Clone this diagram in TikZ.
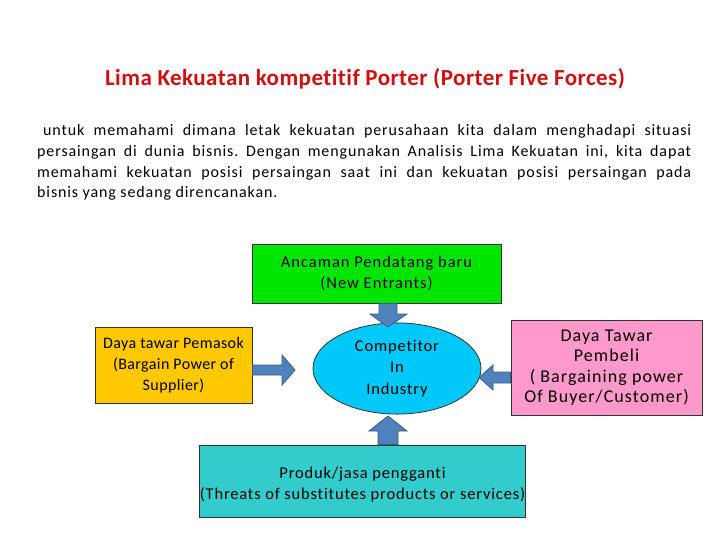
\documentclass[tikz,border=0pt]{standalone}
\usepackage{fontspec}
\setmainfont{Carlito}[Ligatures=NoCommon]
\usetikzlibrary{shapes.geometric,calc}
\definecolor{titlered}{HTML}{D01010}
\definecolor{boxgreen}{HTML}{00E600}
\definecolor{boxorange}{HTML}{FFC800}
\definecolor{ellblue}{HTML}{00C8F8}
\definecolor{boxpink}{HTML}{FF99CC}
\definecolor{boxteal}{HTML}{33CCCC}
\definecolor{arrowfill}{HTML}{4F81BD}
\definecolor{arrowline}{HTML}{385D8A}
\newcommand{\lsp}[1]{\addfontfeatures{LetterSpace=#1}}
\newcommand{\lowered}[2]{\raisebox{-#1}{\begin{tabular}{@{}c@{}}#2\end{tabular}}}
\frenchspacing
\begin{document}
\begin{tikzpicture}[x=1pt,y=-1pt,
  box/.style={draw=black!80, line width=0.8pt, inner sep=0pt, align=center},
  barrow/.style={fill=arrowfill, draw=arrowline, line width=0.8pt, line join=miter}]
\useasboundingbox (0,0) rectangle (720,540);
% title
\node[font=\fontsize{23}{26}\selectfont\bfseries\lsp{2}, text=titlered] (title) at (365,79) {Lima Kekuatan kompetitif Porter (Porter Five Forces)};
% paragraph
\node[anchor=north west, text width=654pt, align=justify, inner sep=0pt, font=\fontsize{16}{20.7}\selectfont\lsp{5.5}] (para) at (37,124.5)
{\hspace*{6pt}untuk memahami dimana letak kekuatan perusahaan kita dalam menghadapi situasi\linebreak
persaingan di dunia bisnis. Dengan mengunakan Analisis Lima Kekuatan ini, kita dapat\linebreak
memahami kekuatan posisi persaingan saat ini dan kekuatan posisi persaingan pada\linebreak
bisnis yang sedang direncanakan.};
% boxes
\node[box, fill=boxgreen, minimum width=249pt, minimum height=59pt, font=\fontsize{16.5}{21}\selectfont\lsp{6}] (new) at (376.5,273.5) {\lowered{2pt}{Ancaman Pendatang baru\\(New Entrants)}};
\node[box, fill=boxorange, minimum width=157pt, minimum height=76pt, font=\fontsize{16}{21}\selectfont\lsp{2.5}] (sup) at (173.5,365) {Daya tawar Pemasok\\(Bargain Power of\\Supplier)};
\node[box, fill=ellblue, ellipse, minimum width=168pt, minimum height=85pt, font=\fontsize{16.5}{21.5}\selectfont\lsp{5}] (ind) at (397,368.5) {\lowered{3pt}{Competitor\\In\\Industry}};
\node[box, fill=boxpink, minimum width=191pt, minimum height=95pt, font=\fontsize{18}{20.5}\selectfont\lsp{6}] (buy) at (606.5,367.5) {Daya Tawar\\Pembeli\\( Bargaining power\\Of Buyer/Customer)};
\node[box, fill=boxteal, minimum width=323pt, minimum height=72pt, font=\fontsize{16.5}{21}\selectfont\lsp{5}] (sub) at (362.5,481) {\\[-2pt]Produk/jasa pengganti\\(Threats of substitutes products or services)};
% block arrows
\draw[barrow] (379,0 |- new.south) -- (397,0 |- new.south) -- (397,314) -- (407,314) -- (388,327) -- (370,314) -- (379,314) -- cycle;
\draw[barrow] (378,0 |- sub.north) -- (398,0 |- sub.north) -- (398,431) -- (407,431) -- (388,416) -- (369,431) -- (378,431) -- cycle;
\draw[barrow] (sup.east |- 0,365) -- (282,365) -- (282,355) -- (295,370) -- (282,385) -- (282,375) -- (sup.east |- 0,375) -- cycle;
\draw[barrow] (buy.west |- 0,372) -- (493,372) -- (493,365) -- (479,377.5) -- (493,390) -- (493,383) -- (buy.west |- 0,383) -- cycle;
\end{tikzpicture}
\end{document}
